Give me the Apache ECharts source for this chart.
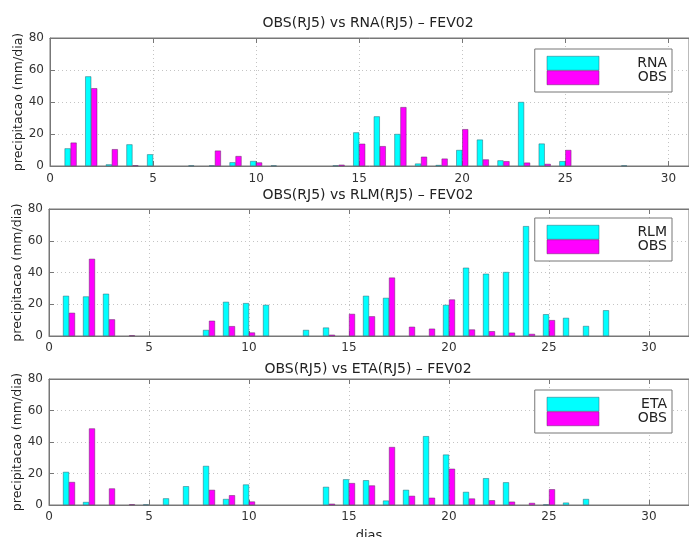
<!DOCTYPE html>
<html>
<head>
<meta charset="utf-8">
<script src="https://cdn.jsdelivr.net/npm/echarts@6/dist/echarts.min.js"></script>
<style>html,body{margin:0;padding:0;background:#fff}#c{width:689px;height:537px}</style>
</head>
<body>
<div id="c"></div>
<script>
var days = [1,2,3,4,5,6,7,8,9,10,11,12,13,14,15,16,17,18,19,20,21,22,23,24,25,26,27,28];
var obs = [14.6,48.6,10.5,0.4,0,0,0,9.6,6.2,2.2,0,0,0,0.8,13.9,12.4,36.8,5.8,4.6,23,4.1,3,2.1,1.3,10,0,0,0];
var rna = [11,56,1,13.5,7.3,0,0.3,0.3,2.3,3.1,0.3,0,0,0.3,21,31,20,1.5,0.6,10,16.5,3.5,40,14,3,0,0,0.3];
var rlm = [25.3,24.9,26.6,0,0,0,0,3.8,21.5,20.7,19.6,0,3.8,5.3,0,25.3,24,0,0,19.6,43,39.2,40.3,69.2,13.7,11.4,6.3,16.2];
var eta = [21,1.9,0,0,0.3,4.2,11.9,24.8,3.8,13,0,0,0,11.5,16.3,15.7,2.8,9.6,43.7,32,8.3,17,14.4,0,0.3,1.5,3.8,0];
var modelNames = ['RNA','RLM','ETA'];
var modelData = [rna, rlm, eta];
var titles = ['OBS(RJ5) vs RNA(RJ5) \u2013 FEV02','OBS(RJ5) vs RLM(RJ5) \u2013 FEV02','OBS(RJ5) vs ETA(RJ5) \u2013 FEV02'];
var xTicks = [0,5,10,15,20,25,30];
var yTicks = [0,20,40,60,80];

var FONT = 'DejaVu Sans';
var grids = [
  {left:50, top:38, right:0, height:128},
  {left:49, top:209, right:0, height:127},
  {left:49, top:379, right:0, height:126}
];
var xMax = [31, 32, 32];
var titleTop = [16, 188, 362];
var legendTop = [49, 218, 390];
var labelMargin = [7, 6, 6];

function pairs(arr){
  var out = [];
  days.forEach(function(d,i){ if (arr[i] > 0) out.push([d, arr[i]]); });
  return out;
}

var option = {
  animation: false,
  backgroundColor: '#fff',
  title: [], grid: [], xAxis: [], yAxis: [], series: [], legend: []
};
for (var p = 0; p < 3; p++) {
  option.title.push({
    text: titles[p], left: 368, top: titleTop[p], textAlign: 'center', padding: 0,
    textStyle: {fontFamily: FONT, fontSize: 14, fontWeight: 'normal', color: '#222'}
  });
  option.grid.push(Object.assign({show: true, borderColor: '#777', borderWidth: 1, backgroundColor: '#fff',
    containLabel: false, outerBoundsMode: 'none'}, grids[p]));
  option.xAxis.push({
    type: 'value', gridIndex: p, min: 0, max: xMax[p], interval: 5,
    name: p === 2 ? 'dias' : '', nameLocation: 'middle', nameGap: 24, nameMoveOverlap: false,
    nameTextStyle: {fontFamily: FONT, fontSize: 13, color: '#222'},
    axisLine: {show: true, lineStyle: {color: '#777'}},
    axisTick: {show: true, inside: true, length: 5, lineStyle: {color: '#777'}},
    axisLabel: {fontFamily: FONT, fontSize: 12, color: '#333', margin: labelMargin[p], showMaxLabel: false,
      formatter: function(v){ return xTicks.indexOf(v) >= 0 ? String(v) : ''; }},
    splitLine: {show: true, lineStyle: {color: '#c4c4c4', type: [1,3]}}
  });
  option.xAxis.push({
    type: 'value', gridIndex: p, min: 0, max: xMax[p], interval: 5, position: 'top',
    axisLine: {show: true, lineStyle: {color: '#777'}},
    axisTick: {show: true, inside: true, length: 5, lineStyle: {color: '#777'}},
    axisLabel: {show: false}, splitLine: {show: false}
  });
  option.yAxis.push({
    type: 'value', gridIndex: p, min: 0, max: 80, interval: 20,
    name: 'precipitacao (mm/dia)', nameLocation: 'middle', nameGap: 25, nameMoveOverlap: false,
    nameTextStyle: {fontFamily: FONT, fontSize: 12.5, color: '#222'},
    axisLine: {show: true, lineStyle: {color: '#777'}},
    axisTick: {show: true, inside: true, length: 5, lineStyle: {color: '#777'}},
    axisLabel: {fontFamily: FONT, fontSize: 12, color: '#333', margin: 6,
      formatter: function(v){ return yTicks.indexOf(v) >= 0 ? String(v) : ''; }},
    splitLine: {show: true, lineStyle: {color: '#c4c4c4', type: [1,3]}}
  });
  option.series.push({
    name: modelNames[p], type: 'bar', xAxisIndex: p * 2, yAxisIndex: p,
    data: pairs(modelData[p]), barWidth: 6, barGap: '0%',
    itemStyle: {color: '#00ffff', borderColor: '#2a6070', borderWidth: 0.5}
  });
  option.series.push({
    name: 'OBS', type: 'bar', xAxisIndex: p * 2, yAxisIndex: p,
    data: pairs(obs), barWidth: 6, barGap: '0%',
    itemStyle: {color: '#ff00ff', borderColor: '#602a60', borderWidth: 0.5}
  });
  option.legend.push({
    data: [modelNames[p], 'OBS'], orient: 'vertical', right: 17, top: legendTop[p],
    itemWidth: 52, itemHeight: 14, itemGap: 0, icon: 'rect',
    itemStyle: {borderWidth: 0.5},
    backgroundColor: '#fff', borderColor: '#777', borderWidth: 1, padding: [7, 5, 7, 12],
    selectedMode: false,
    formatter: '{a|{name}}',
    textStyle: {fontSize: 14, lineHeight: 14, rich: {a: {fontFamily: FONT, fontSize: 14, color: '#222', width: 63, align: 'right', lineHeight: 14, height: 14}}}
  });
}
var chart = echarts.init(document.getElementById('c'), null, {renderer: 'canvas'});
chart.setOption(option);
</script>
</body>
</html>
